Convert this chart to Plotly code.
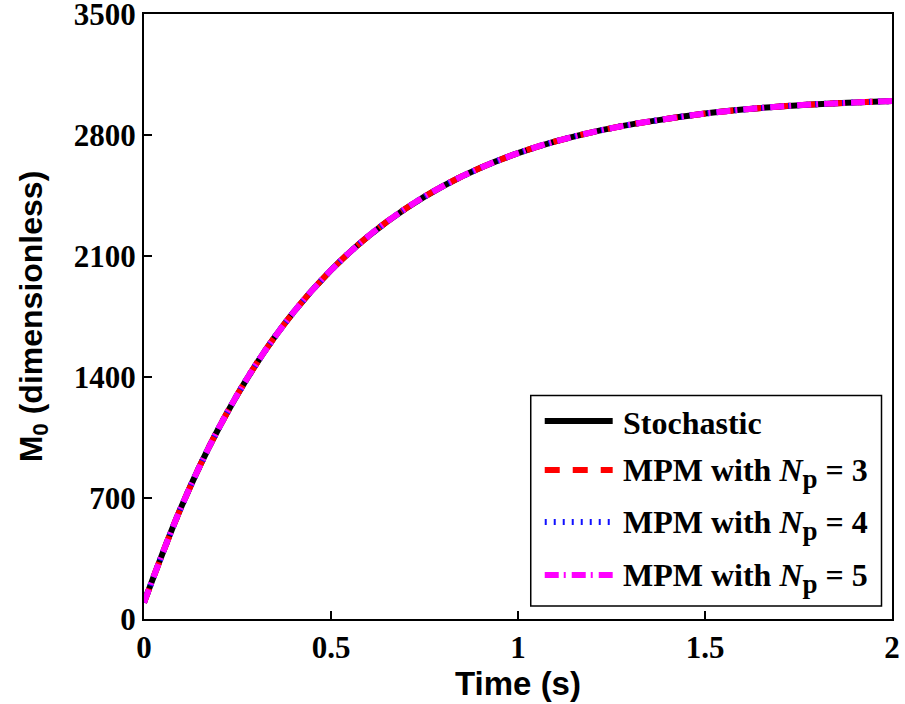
import plotly.graph_objects as go

# Time grid (s) and zeroth moment M0 for each method
time_s = [0.0, 0.1, 0.2, 0.3, 0.4, 0.5, 0.6, 0.7, 0.8, 0.9, 1.0,
          1.1, 1.2, 1.3, 1.4, 1.5, 1.6, 1.7, 1.8, 1.9, 2.0]
m0_stochastic = [95, 650, 1105, 1475, 1775, 2018, 2215, 2375, 2505, 2610, 2695,
                 2763, 2817, 2860, 2894, 2924, 2947, 2965, 2978, 2988, 2996]
m0_mpm3 = [95, 650, 1105, 1475, 1775, 2018, 2215, 2375, 2505, 2610, 2695,
           2763, 2817, 2860, 2894, 2924, 2947, 2965, 2978, 2988, 2996]
m0_mpm4 = [95, 650, 1105, 1475, 1775, 2018, 2215, 2375, 2505, 2610, 2695,
           2763, 2817, 2860, 2894, 2924, 2947, 2965, 2978, 2988, 2996]
m0_mpm5 = [95, 650, 1105, 1475, 1775, 2018, 2215, 2375, 2505, 2610, 2695,
           2763, 2817, 2860, 2894, 2924, 2947, 2965, 2978, 2988, 2996]

x_ticks = [0, 0.5, 1, 1.5, 2]
x_tick_text = ["0", "0.5", "1", "1.5", "2"]
y_ticks = [0, 700, 1400, 2100, 2800, 3500]

SUB_P = "<sub><span style='font-size:27px'>p</span></sub>"
legend_names = ["Stochastic",
                "MPM with <i>N</i>" + SUB_P + " = 3",
                "MPM with <i>N</i>" + SUB_P + " = 4",
                "MPM with <i>N</i>" + SUB_P + " = 5"]

styles = [
    dict(color="black", dash="solid", width=6),
    dict(color="#ff0000", dash="15px,13px", width=6),
    dict(color="#1010ff", dash="2px,7px", width=6),
    dict(color="#ff00ff", dash="14px,5px,2px,6px", width=6),
]

W, H = 905, 704
L, R, T, B = 144, 12.5, 14, 85
plot_w = W - L - R
plot_h = H - T - B


def px_x(px):
    return (px - L) / plot_w


def px_y(py):
    return (H - B - py) / plot_h


fig = go.Figure()
for name, ys, st in zip(legend_names,
                        [m0_stochastic, m0_mpm3, m0_mpm4, m0_mpm5], styles):
    fig.add_trace(go.Scatter(
        x=time_s, y=ys, mode="lines", name=name, showlegend=False,
        line=dict(color=st["color"], dash=st["dash"], width=st["width"],
                  shape="spline", smoothing=1.0),
    ))

# Legend box in the lower right corner
shapes = [dict(type="rect", xref="paper", yref="paper",
               x0=px_x(531), x1=px_x(882), y0=px_y(606), y1=px_y(395.5),
               line=dict(color="black", width=1.5), fillcolor="white",
               layer="above")]
annotations = []
row_y = [421, 470, 522, 575]
text_y = [423, 473, 525, 578]
for name, st, ly, ty in zip(legend_names, styles, row_y, text_y):
    shapes.append(dict(type="line", xref="paper", yref="paper",
                       x0=px_x(545), x1=px_x(613), y0=px_y(ly), y1=px_y(ly),
                       line=dict(color=st["color"], dash=st["dash"],
                                 width=st["width"]),
                       layer="above"))
    annotations.append(dict(xref="paper", yref="paper", x=px_x(621),
                            y=px_y(ty), text=name, showarrow=False,
                            xanchor="left", yanchor="middle",
                            font=dict(family="Liberation Serif", size=32,
                                      color="black", weight="bold")))

axis_common = dict(showline=True, linecolor="black", linewidth=2,
                   mirror=True, ticks="inside", ticklen=8, tickwidth=1.5,
                   tickcolor="black", showgrid=False, zeroline=False,
                   automargin=False, ticklabeloverflow="allow",
                   tickfont=dict(family="Liberation Serif", size=31,
                                 color="black", weight="bold"))

fig.update_layout(
    width=W, height=H,
    margin=dict(l=L, r=R, t=T, b=B),
    plot_bgcolor="white", paper_bgcolor="white",
    xaxis=dict(range=[0, 2], tickvals=x_ticks, ticktext=x_tick_text,
               title=dict(text="Time (s)", standoff=2,
                          font=dict(family="Liberation Sans", size=33,
                                    color="black", weight="bold")),
               **axis_common),
    yaxis=dict(range=[0, 3500], tickvals=y_ticks,
               title=dict(text="M<sub>0</sub> (dimensionless)", standoff=22,
                          font=dict(family="Liberation Sans", size=32,
                                    color="black", weight="bold")),
               **axis_common),
    shapes=shapes,
    annotations=annotations,
)

fig.write_html("out.html")
